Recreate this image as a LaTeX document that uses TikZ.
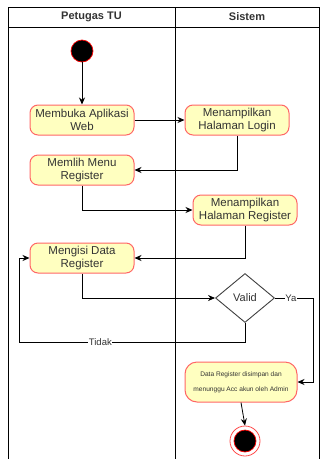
\documentclass[tikz,border=0pt]{standalone}
\usepackage{fontspec}
\setmainfont{Liberation Sans}
\usetikzlibrary{arrows.meta,shapes.geometric}
\definecolor{actfill}{HTML}{FFFFC0}
\definecolor{actline}{HTML}{FF6666}
\definecolor{txt}{HTML}{333333}
\tikzset{
  act/.style={draw=actline, fill=actfill, rounded corners=8pt, line width=1pt,
    minimum width=104pt, minimum height=30pt, inner sep=1pt, align=center,
    text=txt, font=\fontsize{11.5}{12.5}\selectfont},
  flow/.style={draw=black, line width=0.8pt, -{Stealth[length=7pt,width=6pt]}},
  plain/.style={draw=black, line width=0.8pt},
  lane/.style={draw=black, line width=0.8pt},
  lbl/.style={fill=white, inner sep=0.5pt, text=txt, font=\fontsize{9.5}{10}\selectfont},
}
\begin{document}
\begin{tikzpicture}[x=1pt,y=-1pt]
\useasboundingbox (0,0) rectangle (320,459);
\fill[white] (0,0) rectangle (320,459);

% swimlanes
\draw[lane] (8,459) -- (8,7) -- (319.5,7) -- (319.5,459);
\draw[lane] (8,27) -- (319.5,27);
\draw[lane] (175,7) -- (175,459);
\node[font=\bfseries\fontsize{11}{12}\selectfont, text=txt] (h1) at (91.5,17) {Petugas TU};
\node[font=\bfseries\fontsize{11}{12}\selectfont, text=txt] (h2) at (247,17) {Sistem};

% start
\node[circle, fill=black, draw=red, line width=0.7pt, minimum size=22pt, inner sep=0pt] (start) at (82,51) {};

% activities
\node[act] (buka) at (82,120) {Membuka Aplikasi\\Web};
\node[act] (login) at (237,120) {Menampilkan\\Halaman Login};
\node[act] (menu) at (82,170) {Memlih Menu\\Register};
\node[act] (reg) at (245,210) {Menampilkan\\Halaman Register};
\node[act] (isi) at (82,258) {Mengisi Data\\Register};
\node[draw=black!75, fill=white, line width=0.9pt, diamond, aspect=1.2, minimum width=59pt, minimum height=49pt, inner sep=0pt, text=txt, font=\fontsize{11}{12}\selectfont] (valid) at (245,298) {Valid};
\node[act, minimum width=112pt, minimum height=40pt, rounded corners=12pt, font=\fontsize{6.6}{15}\selectfont] (simpan) at (241,382) {Data Register disimpan dan\\menunggu Acc akun oleh Admin};

% end
\node[circle, draw=red!70, line width=0.8pt, fill=white, minimum size=30pt, inner sep=0pt] (endo) at (245,441) {};
\node[circle, fill=black, draw=red, line width=0.7pt, minimum size=22pt, inner sep=0pt] (endi) at (245,441) {};

% connectors
\draw[flow] (start) -- (buka);
\draw[flow] (buka) -- (login);
\draw[flow] (login.south) |- (menu.east);
\draw[flow] (menu.south) |- (reg.west);
\draw[flow] (reg.south) |- (isi.east);
\draw[flow] (isi.south) |- (valid.west);
\coordinate (ya) at (313,298);
\draw[plain] (valid.east) -- node[lbl, pos=0.42] {Ya} (ya);
\draw[flow] (ya) |- (simpan.east);
\coordinate (tk) at (19,342);
\draw[plain] (valid.south) |- node[lbl, pos=0.82] {Tidak} (tk);
\draw[flow] (tk) |- (isi.west);
\draw[flow] (simpan.south) -- (endo.north);
\end{tikzpicture}
\end{document}
